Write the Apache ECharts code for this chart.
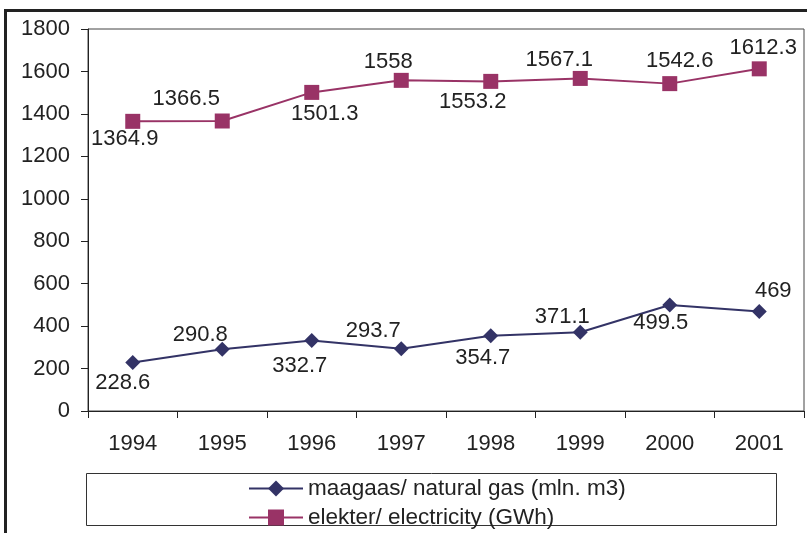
<!DOCTYPE html>
<html>
<head>
<meta charset="utf-8">
<script src="https://cdn.jsdelivr.net/npm/echarts@6/dist/echarts.min.js"></script>
<style>
html,body{margin:0;padding:0;background:#fff;}
#chart{width:807px;height:533px;}
</style>
</head>
<body>
<div id="chart"></div>
<script>
// ---- data ----
const years = ['1994','1995','1996','1997','1998','1999','2000','2001'];
const gasName = 'maagaas/ natural gas (mln. m3)';
const elecName = 'elekter/ electricity (GWh)';
const gasValues = [228.6, 290.8, 332.7, 293.7, 354.7, 371.1, 499.5, 469];
const elecValues = [1364.9, 1366.5, 1501.3, 1558, 1553.2, 1567.1, 1542.6, 1612.3];
const yTicks = [0, 200, 400, 600, 800, 1000, 1200, 1400, 1600, 1800];

// ---- label layout (offsets of value labels from their markers, px) ----
const gasLabelOffsets = [[-10,20],[-22,-14],[-12,26],[-28,-18],[-8,22],[-18,-15],[-9,18],[14,-21]];
const elecLabelOffsets = [[-8,18],[-36,-22],[13,22],[-13,-18],[-18,21],[-21,-18],[10,-23],[4,-21]];

const FONT = "'Liberation Sans', Arial, sans-serif";
const TXT = '#222222';
const GAS_COLOR = '#333366';
const ELEC_COLOR = '#993366';

function withLabels(values, offsets) {
  return values.map((v, i) => ({
    value: v,
    label: { offset: offsets[i] }
  }));
}

const legendBase = {
  orient: 'vertical',
  left: 243,
  itemWidth: 54, itemHeight: 20, itemGap: 3,
  textStyle: { fontFamily: FONT, fontSize: 22.5, color: TXT, lineHeight: 22 }
};

const chart = echarts.init(document.getElementById('chart'), null, {renderer: 'canvas'});
chart.setOption({
  animation: false,
  backgroundColor: '#ffffff',
  textStyle: { fontFamily: FONT },
  graphic: [
    { type: 'rect', shape: { x: 5.5, y: 10.5, width: 900, height: 600 },
      style: { fill: 'none', stroke: '#222', lineWidth: 3 }, z: -10 },
    { type: 'rect', shape: { x: 86.5, y: 473.5, width: 690, height: 52 },
      style: { fill: '#fff', stroke: '#333', lineWidth: 1 }, z: -5 }
  ],
  grid: {
    left: 88, top: 29, right: 3, bottom: 122,
    show: true, borderColor: '#444', borderWidth: 1, containLabel: false
  },
  legend: [
    Object.assign({}, legendBase, { top: 472, data: [gasName] }),
    Object.assign({}, legendBase, { top: 501, data: [elecName] })
  ],
  xAxis: {
    type: 'category',
    data: years,
    boundaryGap: true,
    axisLine: { lineStyle: { color: '#222', width: 1 } },
    axisTick: { show: true, length: 7, alignWithLabel: false, lineStyle: { color: '#222' } },
    axisLabel: { interval: 0, margin: 22, fontSize: 22, color: TXT, fontFamily: FONT },
    splitLine: { show: false }
  },
  yAxis: {
    type: 'value',
    min: yTicks[0], max: yTicks[yTicks.length - 1], interval: yTicks[1] - yTicks[0],
    axisLine: { show: true, lineStyle: { color: '#222', width: 1 } },
    axisTick: { show: true, length: 7, lineStyle: { color: '#222' } },
    axisLabel: { margin: 18, fontSize: 22, color: TXT, fontFamily: FONT,
                 formatter: v => String(v) },
    splitLine: { show: false }
  },
  series: [
    {
      name: gasName, type: 'line',
      data: withLabels(gasValues, gasLabelOffsets),
      symbol: 'diamond', symbolSize: 15,
      lineStyle: { color: GAS_COLOR, width: 2 },
      itemStyle: { color: GAS_COLOR },
      label: { show: true, position: 'inside', fontSize: 22, color: TXT, fontFamily: FONT },
      z: 3
    },
    {
      name: elecName, type: 'line',
      data: withLabels(elecValues, elecLabelOffsets),
      symbol: 'rect', symbolSize: 15,
      lineStyle: { color: ELEC_COLOR, width: 2 },
      itemStyle: { color: ELEC_COLOR },
      label: { show: true, position: 'inside', fontSize: 22, color: TXT, fontFamily: FONT },
      z: 3
    }
  ]
});
</script>
</body>
</html>
